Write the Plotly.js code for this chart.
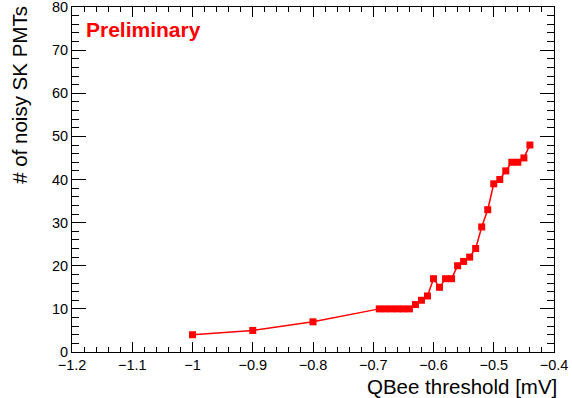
<!DOCTYPE html>
<html>
<head>
<meta charset="utf-8">
<script src="https://cdn.plot.ly/plotly-3.0.1.min.js"></script>
<style>html,body{margin:0;padding:0;background:#fff;}#chart{width:572px;height:398px;}</style>
</head>
<body>
<div id="chart"></div>
<script>
// QBee threshold [mV]
const thresholds = [-1.0, -0.9, -0.8, -0.69, -0.68, -0.67, -0.66, -0.65, -0.64,
  -0.63, -0.62, -0.61, -0.60, -0.59, -0.58, -0.57, -0.56, -0.55, -0.54, -0.53,
  -0.52, -0.51, -0.50, -0.49, -0.48, -0.47, -0.46, -0.45, -0.44];
// # of noisy SK PMTs
const noisyPMTs = [4, 5, 7, 10, 10, 10, 10, 10, 10,
  11, 12, 13, 17, 15, 17, 17, 20, 21, 22, 24,
  29, 33, 39, 40, 42, 44, 44, 45, 48];
const xTitle = "QBee threshold [mV]";
const yTitle = "# of noisy SK PMTs";
const label = "Preliminary";

const font = "Liberation Sans, Arial, Helvetica, sans-serif";

const trace = {
  x: thresholds, y: noisyPMTs, type: 'scatter', mode: 'lines+markers',
  line: {color: '#ff0000', width: 1.5},
  marker: {symbol: 'square', size: 7, color: '#ff0000'},
  hoverinfo: 'skip'
};

const axisCommon = {
  showline: true, linecolor: '#000', linewidth: 1, mirror: 'allticks',
  ticks: 'inside', tickcolor: '#000', tickwidth: 1,
  showgrid: false, zeroline: false, ticklabeloverflow: 'allow',
  tickfont: {family: font, size: 14.5, color: '#000'}
};

const layout = {
  width: 572, height: 398,
  margin: {l: 72, r: 18, t: 7, b: 46},
  paper_bgcolor: '#fff', plot_bgcolor: '#fff',
  showlegend: false,
  xaxis: Object.assign({}, axisCommon, {
    range: [-1.2, -0.4], dtick: 0.1, tick0: -1.2, ticklen: 10,
    minor: {ticks: 'inside', ticklen: 5, dtick: 0.02, tickcolor: '#000', showgrid: false}
  }),
  yaxis: Object.assign({}, axisCommon, {
    range: [0, 80], dtick: 10, tick0: 0, ticklen: 14,
    minor: {ticks: 'inside', ticklen: 7, dtick: 2, tickcolor: '#000', showgrid: false}
  }),
  annotations: [
    {text: xTitle, xref: 'paper', yref: 'paper', x: 1.0105, y: -0.099, xanchor: 'right', yanchor: 'middle',
     showarrow: false, font: {family: font, size: 20.5, color: '#000'}},
    {text: yTitle, xref: 'paper', yref: 'paper', x: -0.108, y: 1.009, xanchor: 'center', yanchor: 'top',
     textangle: -90, showarrow: false, font: {family: font, size: 20.5, color: '#000'}},
    {text: '<b>' + label + '</b>', xref: 'paper', yref: 'paper', x: 0.024, y: 0.936, xanchor: 'left', yanchor: 'middle',
     showarrow: false, font: {family: font, size: 21, color: '#ff0000'}}
  ]
};

Plotly.newPlot('chart', [trace], layout, {staticPlot: true, displayModeBar: false});
</script>
</body>
</html>
